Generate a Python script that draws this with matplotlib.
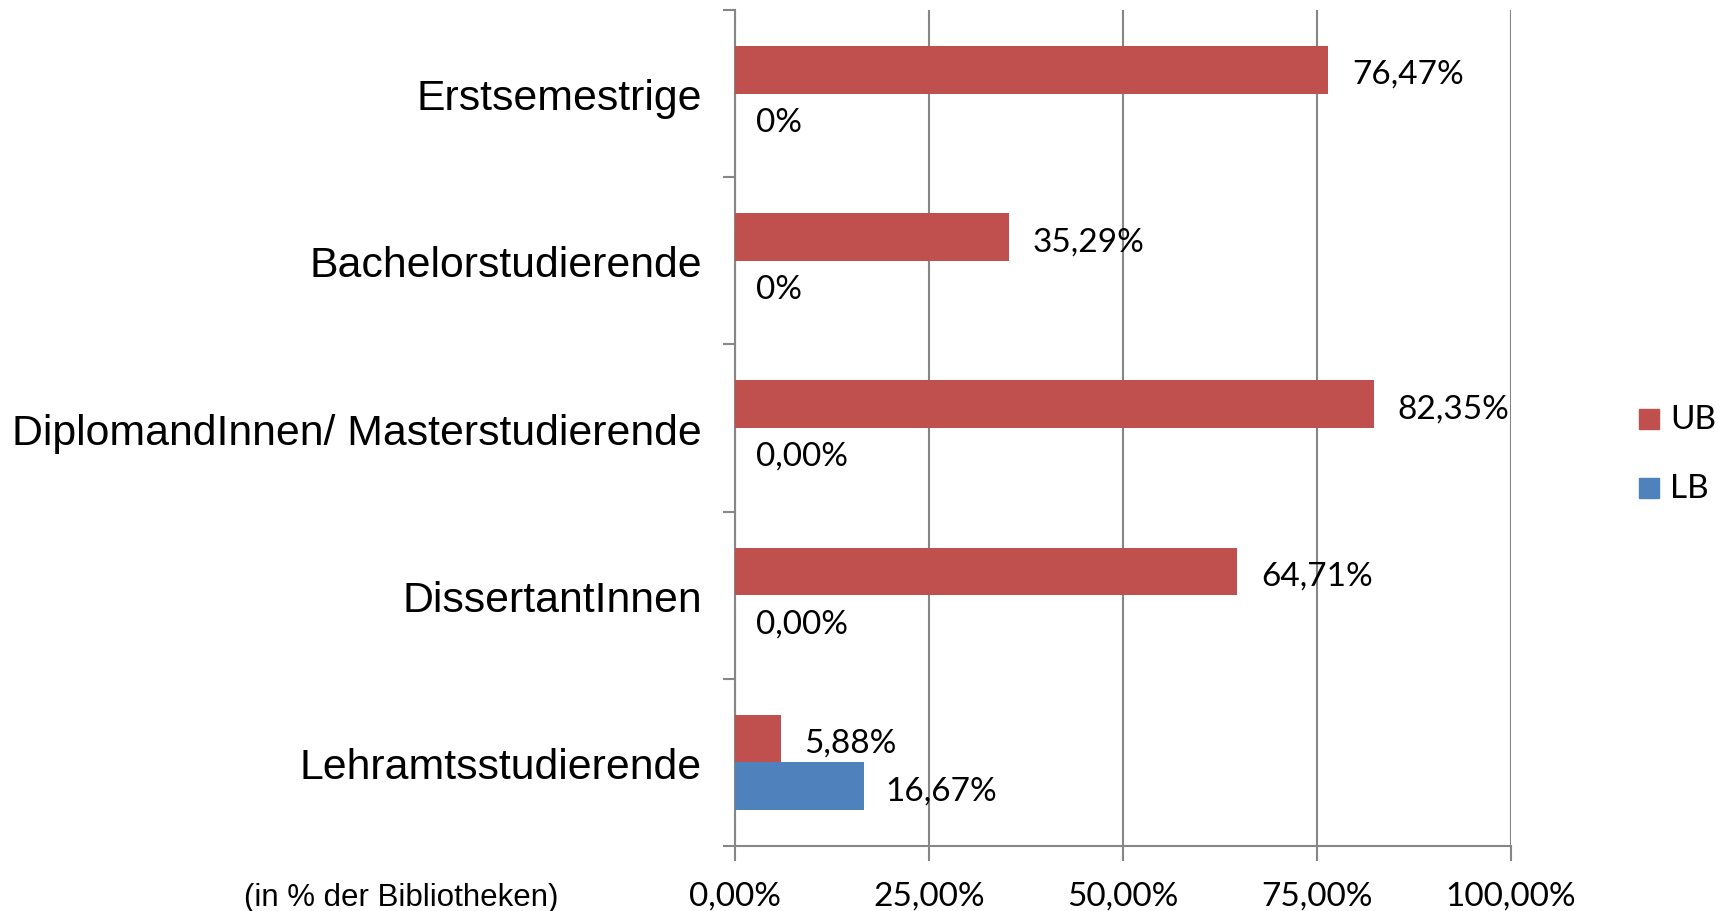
import matplotlib.pyplot as plt
import numpy as np

# ================================== DATEN ==================================

kategorien = ["Erstsemestrige", "Bachelorstudierende", "DiplomandInnen/ Masterstudierende",
              "DissertantInnen", "Lehramtsstudierende"]
werte_ub = [76.47, 35.29, 82.35, 64.71, 5.88]
werte_lb = [0, 0, 0, 0, 16.67]
labels_ub = ["76,47%", "35,29%", "82,35%", "64,71%", "5,88%"]
labels_lb = ["0%", "0%", "0,00%", "0,00%", "16,67%"]
x_ticks = [0, 25, 50, 75, 100]
x_tick_labels = ["0,00%", "25,00%", "50,00%", "75,00%", "100,00%"]

# ================================== GRAFIK ==================================

rot = "#C0504D"
blau = "#4F81BD"
grau = "#868686"
label_font = ["Lato", "DejaVu Sans"]
kat_font = ["Liberation Sans", "DejaVu Sans"]

fig = plt.figure(figsize=(17.27, 9.12), dpi=100)
ax = fig.add_axes([735 / 1727, 1 - 847 / 912, (1511 - 735) / 1727, (847 - 11) / 912])

y = np.arange(len(kategorien))
h = 0.285

ax.barh(y - h / 2, werte_ub, height=h, color=rot, zorder=3)
ax.barh(y + h / 2, werte_lb, height=h, color=blau, zorder=3)

# Beschriftung der Balken
for i in range(len(kategorien)):
    ax.annotate(labels_ub[i], (werte_ub[i], y[i] - h / 2), xytext=(17, -3), textcoords="offset points",
                va="center", ha="left", fontsize=24, family=label_font, color="black")
    ax.annotate(labels_lb[i], (werte_lb[i], y[i] + h / 2), xytext=(15, -3), textcoords="offset points",
                va="center", ha="left", fontsize=24, family=label_font, color="black")

ax.set_xlim(0, 100)
ax.set_ylim(len(kategorien) - 0.5, -0.5)

ax.set_xticks(x_ticks)
ax.set_xticklabels(x_tick_labels, fontsize=24, family=label_font)
ax.tick_params(axis="x", direction="out", length=11, width=1.5, color=grau, pad=14)

# Striche an den Kategoriegrenzen, Namen in der Mitte
ax.set_yticks(np.arange(len(kategorien) + 1) - 0.5)
ax.set_yticklabels([])
ax.set_yticks(y, minor=True)
ax.set_yticklabels(kategorien, minor=True, fontsize=30.8, family=kat_font)
ax.tick_params(axis="y", which="major", direction="out", length=9, width=1.5, color=grau)
ax.tick_params(axis="y", which="minor", length=0, pad=24)

ax.grid(axis="x", color=grau, linewidth=1.5, zorder=0)
for s in ["top", "right"]:
    ax.spines[s].set_visible(False)
for s in ["left", "bottom"]:
    ax.spines[s].set_color(grau)
    ax.spines[s].set_linewidth(1.5)

fig.text(401 / 1727, 1 - 898 / 912, "(in % der Bibliotheken)", ha="center", va="center",
         fontsize=22.5, family=kat_font)

# Legende
fig.patches.append(plt.Rectangle((1639 / 1727, 1 - 430 / 912), 20 / 1727, 20 / 912,
                                 transform=fig.transFigure, color=rot))
fig.patches.append(plt.Rectangle((1639 / 1727, 1 - 499 / 912), 20 / 1727, 20 / 912,
                                 transform=fig.transFigure, color=blau))
fig.text(1670 / 1727, 1 - 420 / 912, "UB", va="center", ha="left", fontsize=24, family=label_font)
fig.text(1670 / 1727, 1 - 489 / 912, "LB", va="center", ha="left", fontsize=24, family=label_font)

fig.savefig("out.png", dpi=100)
